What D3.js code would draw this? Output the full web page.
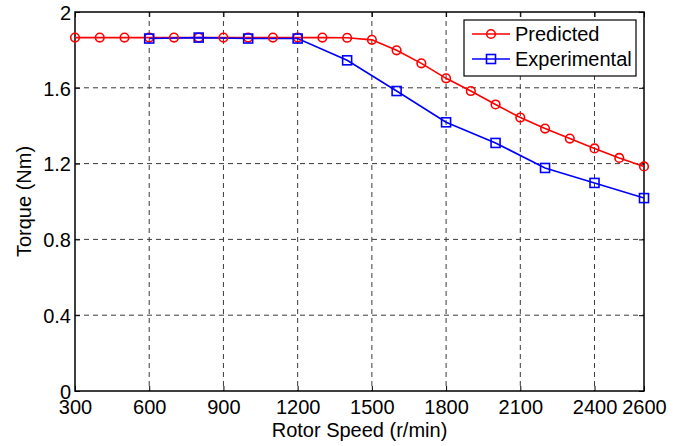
<!DOCTYPE html>
<html>
<head>
<meta charset="utf-8">
<script src="https://cdn.jsdelivr.net/npm/d3@7"></script>
<style>
  html, body { margin: 0; padding: 0; background: #fff; }
  svg { display: block; font-family: "Liberation Sans", Arial, Helvetica, sans-serif; }
</style>
</head>
<body>
<svg id="chart" width="684" height="446"></svg>
<script>
// Rotor speed (r/min) and torque (Nm)
const predictedSpeed = [300, 400, 500, 600, 700, 800, 900, 1000, 1100, 1200, 1300, 1400,
                        1500, 1600, 1700, 1800, 1900, 2000, 2100, 2200, 2300, 2400, 2500, 2600];
const predictedTorque = [1.865, 1.865, 1.865, 1.865, 1.865, 1.865, 1.865, 1.865, 1.865, 1.865, 1.865, 1.864,
                         1.853, 1.798, 1.729, 1.650, 1.583, 1.512, 1.443, 1.385, 1.332, 1.280, 1.230, 1.185];
const experimentalSpeed = [600, 800, 1000, 1200, 1400, 1600, 1800, 2000, 2200, 2400, 2600];
const experimentalTorque = [1.860, 1.865, 1.860, 1.860, 1.745, 1.583, 1.418, 1.309, 1.177, 1.098, 1.018];

const xTicks = [300, 600, 900, 1200, 1500, 1800, 2100, 2400, 2600];
const yTicks = [0, 0.4, 0.8, 1.2, 1.6, 2];
const seriesNames = ["Predicted", "Experimental"];

const svg = d3.select("#chart");
const plotLeft = 75, plotRight = 644, plotTop = 12, plotBottom = 391;

const x = d3.scaleLinear().domain([300, 2600]).range([plotLeft, plotRight]);
const y = d3.scaleLinear().domain([0, 2]).range([plotBottom, plotTop]);

// dashed grid
const grid = svg.append("g");
grid.selectAll(".gx").data(xTicks.filter(d => d > 300 && d < 2600)).join("line")
  .attr("x1", d => x(d)).attr("x2", d => x(d)).attr("y1", plotTop).attr("y2", plotBottom)
  .attr("stroke", "#3a3a3a").attr("stroke-width", 1).attr("stroke-dasharray", "5,4");
grid.selectAll(".gy").data(yTicks.filter(d => d > 0 && d < 2)).join("line")
  .attr("x1", plotLeft).attr("x2", plotRight).attr("y1", d => y(d)).attr("y2", d => y(d))
  .attr("stroke", "#3a3a3a").attr("stroke-width", 1).attr("stroke-dasharray", "5,4");

// axes with inward ticks
const xAxis = d3.axisBottom(x).tickValues(xTicks).tickSizeInner(-5).tickSizeOuter(0).tickPadding(9).tickFormat(d3.format("d"));
const yAxis = d3.axisLeft(y).tickValues(yTicks).tickSizeInner(-5).tickSizeOuter(0).tickPadding(4).tickFormat(d => d === 0 || d === 2 ? String(d) : d.toFixed(1));

const gx = svg.append("g").attr("transform", `translate(0,${plotBottom})`).call(xAxis);
const gy = svg.append("g").attr("transform", `translate(${plotLeft},0)`).call(yAxis);
[gx, gy].forEach(g => {
  g.select(".domain").remove();
  g.selectAll(".tick line").attr("stroke", "#000");
  g.selectAll("text").attr("font-size", 20).attr("fill", "#000")
    .attr("font-family", "'Liberation Sans', Arial, sans-serif");
});
gx.selectAll("text").attr("dy", "0.71em");
gy.selectAll("text").attr("dy", "0.36em");

// top/right ticks mirrored
const gTop = svg.append("g").attr("transform", `translate(0,${plotTop})`)
  .call(d3.axisTop(x).tickValues(xTicks).tickSizeInner(-5).tickSizeOuter(0).tickFormat(""));
const gRight = svg.append("g").attr("transform", `translate(${plotRight},0)`)
  .call(d3.axisRight(y).tickValues(yTicks).tickSizeInner(-5).tickSizeOuter(0).tickFormat(""));
[gTop, gRight].forEach(g => { g.select(".domain").remove(); g.selectAll(".tick line").attr("stroke", "#000"); });

// frame
svg.append("rect").attr("x", plotLeft).attr("y", plotTop).attr("width", plotRight - plotLeft).attr("height", plotBottom - plotTop)
  .attr("fill", "none").attr("stroke", "#000").attr("stroke-width", 1.5);

// series
const line = d3.line().x(d => x(d[0])).y(d => y(d[1]));
const predicted = predictedSpeed.map((s, i) => [s, predictedTorque[i]]);
const experimental = experimentalSpeed.map((s, i) => [s, experimentalTorque[i]]);

svg.append("path").datum(predicted).attr("d", line)
  .attr("fill", "none").attr("stroke", "#ff0000").attr("stroke-width", 1.6);
svg.append("path").datum(experimental).attr("d", line)
  .attr("fill", "none").attr("stroke", "#0000ff").attr("stroke-width", 1.6);

svg.append("g").selectAll("circle").data(predicted).join("circle")
  .attr("cx", d => x(d[0])).attr("cy", d => y(d[1])).attr("r", 4.3)
  .attr("fill", "none").attr("stroke", "#ff0000").attr("stroke-width", 1.6);
svg.append("g").selectAll("rect").data(experimental).join("rect")
  .attr("x", d => x(d[0]) - 4.5).attr("y", d => y(d[1]) - 4.5).attr("width", 9).attr("height", 9)
  .attr("fill", "none").attr("stroke", "#0000ff").attr("stroke-width", 1.6);

// axis titles
svg.append("text").attr("x", (plotLeft + plotRight) / 2).attr("y", 437).attr("text-anchor", "middle")
  .attr("font-size", 20).attr("fill", "#000").text("Rotor Speed (r/min)");
svg.append("text").attr("transform", `translate(31,${(plotTop + plotBottom) / 2}) rotate(-90)`)
  .attr("text-anchor", "middle").attr("font-size", 20).attr("fill", "#000").text("Torque (Nm)");

// legend
const lg = svg.append("g");
lg.append("rect").attr("x", 464).attr("y", 20).attr("width", 172).attr("height", 56)
  .attr("fill", "#fff").attr("stroke", "#000").attr("stroke-width", 1.2);
const colors = ["#ff0000", "#0000ff"];
seriesNames.forEach((name, i) => {
  const cy = 34 + i * 25;
  lg.append("line").attr("x1", 472).attr("x2", 510).attr("y1", cy).attr("y2", cy)
    .attr("stroke", colors[i]).attr("stroke-width", 1.6);
  if (i === 0) {
    lg.append("circle").attr("cx", 491).attr("cy", cy).attr("r", 4.3)
      .attr("fill", "none").attr("stroke", colors[i]).attr("stroke-width", 1.6);
  } else {
    lg.append("rect").attr("x", 486.5).attr("y", cy - 4.5).attr("width", 9).attr("height", 9)
      .attr("fill", "none").attr("stroke", colors[i]).attr("stroke-width", 1.6);
  }
  lg.append("text").attr("x", 515).attr("y", cy).attr("dy", "0.36em")
    .attr("font-size", 20).attr("fill", "#000").text(name);
});
</script>
</body>
</html>
